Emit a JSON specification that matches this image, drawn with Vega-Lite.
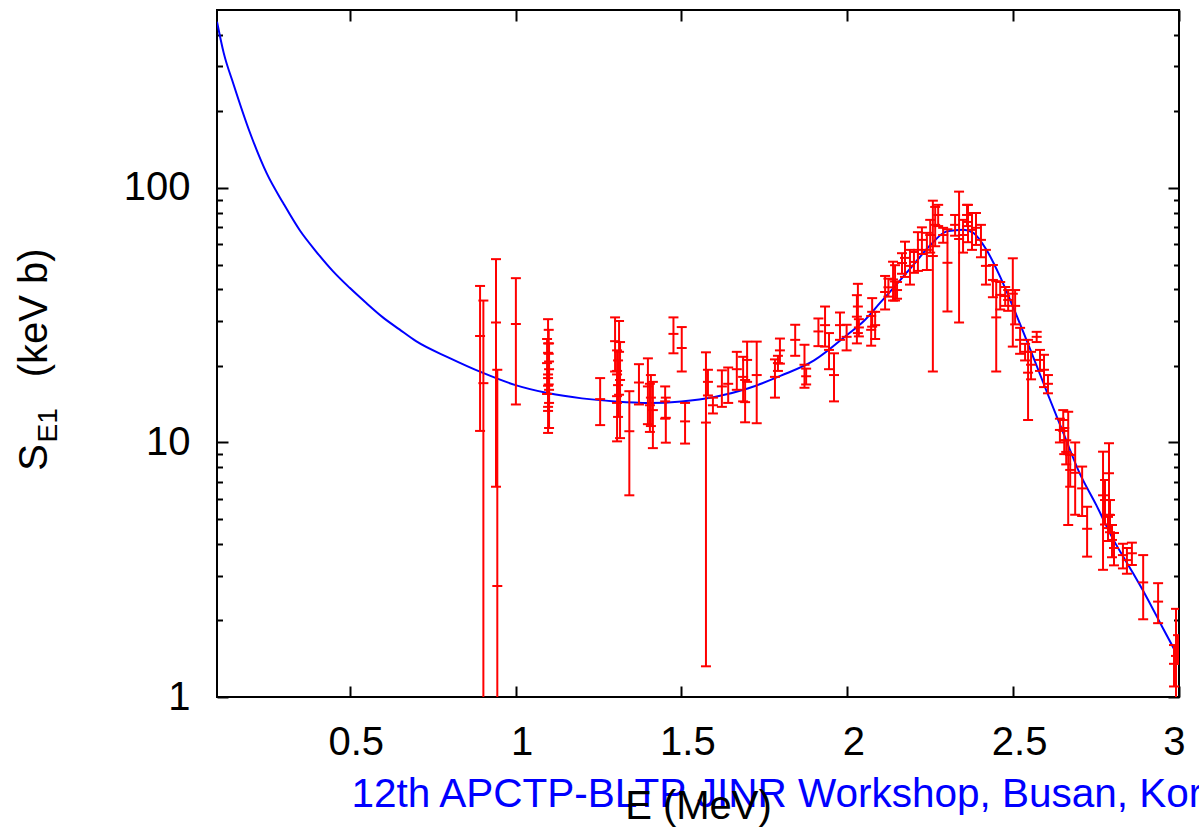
{
  "$schema": "https://vega.github.io/schema/vega-lite/v6.json",
  "width": 962,
  "height": 687,
  "autosize": {"type": "none"},
  "padding": {"left": 217, "top": 10, "right": 20, "bottom": 130},
  "background": "white",
  "config": {
    "view": {"stroke": "black", "strokeWidth": 2},
    "font": "Liberation Sans",
    "axis": {
      "labelFont": "Liberation Sans",
      "titleFont": "Liberation Sans",
      "labelFontSize": 40,
      "titleFontSize": 40,
      "titleFontWeight": "normal",
      "labelColor": "black",
      "titleColor": "black",
      "domain": false,
      "grid": false
    }
  },
  "datasets": {
    "curve": [
      {"E": 0.10, "S": 450}, {"E": 0.12, "S": 340}, {"E": 0.15, "S": 255}, {"E": 0.20, "S": 164},
      {"E": 0.25, "S": 114}, {"E": 0.30, "S": 87}, {"E": 0.35, "S": 68}, {"E": 0.40, "S": 56},
      {"E": 0.45, "S": 47}, {"E": 0.50, "S": 40.5}, {"E": 0.55, "S": 35.3}, {"E": 0.60, "S": 31},
      {"E": 0.65, "S": 27.8}, {"E": 0.70, "S": 25}, {"E": 0.80, "S": 21.5},
      {"E": 0.90, "S": 18.8}, {"E": 1.00, "S": 16.8}, {"E": 1.10, "S": 15.6}, {"E": 1.20, "S": 14.9},
      {"E": 1.30, "S": 14.5}, {"E": 1.40, "S": 14.3}, {"E": 1.50, "S": 14.5}, {"E": 1.60, "S": 15.1},
      {"E": 1.70, "S": 16.3}, {"E": 1.80, "S": 18.3}, {"E": 1.90, "S": 21}, {"E": 2.00, "S": 26.5},
      {"E": 2.05, "S": 30}, {"E": 2.10, "S": 35.5}, {"E": 2.15, "S": 42}, {"E": 2.20, "S": 50},
      {"E": 2.25, "S": 59.5}, {"E": 2.30, "S": 67.5}, {"E": 2.35, "S": 68.5}, {"E": 2.38, "S": 66.6},
      {"E": 2.42, "S": 57}, {"E": 2.46, "S": 45}, {"E": 2.50, "S": 34}, {"E": 2.55, "S": 23.5},
      {"E": 2.60, "S": 16}, {"E": 2.65, "S": 11}, {"E": 2.70, "S": 7.6}, {"E": 2.75, "S": 5.7},
      {"E": 2.80, "S": 4.2}, {"E": 2.85, "S": 3.25}, {"E": 2.90, "S": 2.5}, {"E": 2.95, "S": 1.88},
      {"E": 3.00, "S": 1.42}
    ],
    "points": [
      {"E": 0.893, "S": 26.2, "lo": 11.1, "hi": 41.2},
      {"E": 0.903, "S": 17.1, "lo": 0.5, "hi": 36.1},
      {"E": 0.941, "S": 29.6, "lo": 6.7, "hi": 52.5},
      {"E": 0.945, "S": 2.73, "lo": 0.5, "hi": 19.3},
      {"E": 1.001, "S": 29.2, "lo": 14.1, "hi": 44.2},
      {"E": 1.098, "S": 24.5, "lo": 18.5, "hi": 30.5},
      {"E": 1.100, "S": 22.3, "lo": 16.9, "hi": 27.7},
      {"E": 1.095, "S": 20.5, "lo": 15.5, "hi": 25.5},
      {"E": 1.101, "S": 19.4, "lo": 14.3, "hi": 24.5},
      {"E": 1.098, "S": 17.9, "lo": 13.3, "hi": 22.5},
      {"E": 1.101, "S": 16.1, "lo": 11.4, "hi": 20.8},
      {"E": 1.098, "S": 13.8, "lo": 10.9, "hi": 16.7},
      {"E": 1.255, "S": 14.8, "lo": 11.7, "hi": 17.9},
      {"E": 1.300, "S": 25.0, "lo": 19.0, "hi": 31.0},
      {"E": 1.312, "S": 22.7, "lo": 15.4, "hi": 30.0},
      {"E": 1.306, "S": 19.1, "lo": 15.2, "hi": 23.0},
      {"E": 1.309, "S": 16.8, "lo": 12.6, "hi": 21.0},
      {"E": 1.315, "S": 17.6, "lo": 10.4, "hi": 24.8},
      {"E": 1.306, "S": 14.3, "lo": 10.1, "hi": 18.5},
      {"E": 1.343, "S": 11.07, "lo": 6.2, "hi": 15.9},
      {"E": 1.372, "S": 17.2, "lo": 14.1, "hi": 20.3},
      {"E": 1.399, "S": 16.6, "lo": 11.8, "hi": 21.4},
      {"E": 1.408, "S": 15.0, "lo": 11.6, "hi": 18.4},
      {"E": 1.414, "S": 13.4, "lo": 9.5, "hi": 17.3},
      {"E": 1.405, "S": 14.0, "lo": 11.0, "hi": 17.0},
      {"E": 1.453, "S": 12.5, "lo": 9.98, "hi": 15.0},
      {"E": 1.451, "S": 14.5, "lo": 12.4, "hi": 16.6},
      {"E": 1.476, "S": 26.7, "lo": 22.4, "hi": 31.0},
      {"E": 1.501, "S": 23.5, "lo": 19.0, "hi": 28.4},
      {"E": 1.511, "S": 12.1, "lo": 9.9, "hi": 14.3},
      {"E": 1.574, "S": 11.97, "lo": 1.32, "hi": 22.6},
      {"E": 1.580, "S": 17.3, "lo": 15.3, "hi": 19.3},
      {"E": 1.595, "S": 14.0, "lo": 13.0, "hi": 15.0},
      {"E": 1.622, "S": 16.6, "lo": 13.8, "hi": 19.2},
      {"E": 1.641, "S": 17.0, "lo": 14.3, "hi": 19.7},
      {"E": 1.667, "S": 19.4, "lo": 16.1, "hi": 22.7},
      {"E": 1.686, "S": 18.1, "lo": 14.5, "hi": 21.7},
      {"E": 1.698, "S": 21.1, "lo": 17.3, "hi": 24.9},
      {"E": 1.692, "S": 14.4, "lo": 12.0, "hi": 17.6},
      {"E": 1.727, "S": 18.4, "lo": 11.9, "hi": 24.9},
      {"E": 1.782, "S": 18.1, "lo": 15.0, "hi": 21.2},
      {"E": 1.791, "S": 20.5, "lo": 19.1, "hi": 21.9},
      {"E": 1.797, "S": 23.0, "lo": 20.4, "hi": 25.6},
      {"E": 1.843, "S": 25.3, "lo": 21.9, "hi": 29.0},
      {"E": 1.871, "S": 20.2, "lo": 16.4, "hi": 24.2},
      {"E": 1.876, "S": 18.2, "lo": 16.9, "hi": 19.5},
      {"E": 1.913, "S": 27.3, "lo": 23.9, "hi": 30.7},
      {"E": 1.933, "S": 28.9, "lo": 23.8, "hi": 34.2},
      {"E": 1.945, "S": 23.1, "lo": 19.4, "hi": 26.9},
      {"E": 1.960, "S": 18.4, "lo": 14.5, "hi": 22.4},
      {"E": 1.978, "S": 28.9, "lo": 25.3, "hi": 32.4},
      {"E": 1.998, "S": 26.0, "lo": 23.0, "hi": 29.0},
      {"E": 2.032, "S": 34.2, "lo": 26.9, "hi": 42.0},
      {"E": 2.029, "S": 31.2, "lo": 24.5, "hi": 37.9},
      {"E": 2.035, "S": 28.3, "lo": 26.1, "hi": 30.5},
      {"E": 2.075, "S": 32.6, "lo": 28.5, "hi": 36.9},
      {"E": 2.084, "S": 28.9, "lo": 25.5, "hi": 32.6},
      {"E": 2.072, "S": 27.7, "lo": 24.0, "hi": 31.4},
      {"E": 2.114, "S": 39.0, "lo": 33.3, "hi": 45.1},
      {"E": 2.124, "S": 40.7, "lo": 37.4, "hi": 44.0},
      {"E": 2.144, "S": 42.9, "lo": 36.1, "hi": 49.7},
      {"E": 2.138, "S": 43.7, "lo": 36.1, "hi": 51.3},
      {"E": 2.150, "S": 39.7, "lo": 36.7, "hi": 42.7},
      {"E": 2.165, "S": 50.7, "lo": 46.0, "hi": 55.4},
      {"E": 2.174, "S": 53.1, "lo": 44.7, "hi": 61.5},
      {"E": 2.189, "S": 49.4, "lo": 41.7, "hi": 57.1},
      {"E": 2.201, "S": 51.2, "lo": 46.4, "hi": 56.0},
      {"E": 2.213, "S": 57.1, "lo": 47.2, "hi": 67.0},
      {"E": 2.225, "S": 62.5, "lo": 55.0, "hi": 70.0},
      {"E": 2.240, "S": 57.1, "lo": 47.6, "hi": 66.6},
      {"E": 2.250, "S": 65.3, "lo": 55.7, "hi": 74.9},
      {"E": 2.258, "S": 54.0, "lo": 19.0, "hi": 89.1},
      {"E": 2.265, "S": 71.6, "lo": 59.0, "hi": 84.2},
      {"E": 2.274, "S": 78.3, "lo": 70.8, "hi": 85.8},
      {"E": 2.289, "S": 65.3, "lo": 60.9, "hi": 69.7},
      {"E": 2.302, "S": 50.8, "lo": 32.7, "hi": 68.8},
      {"E": 2.325, "S": 71.6, "lo": 64.9, "hi": 78.3},
      {"E": 2.337, "S": 63.0, "lo": 29.6, "hi": 96.7},
      {"E": 2.349, "S": 65.3, "lo": 55.7, "hi": 74.9},
      {"E": 2.361, "S": 78.3, "lo": 70.8, "hi": 85.8},
      {"E": 2.364, "S": 73.5, "lo": 61.2, "hi": 85.8},
      {"E": 2.376, "S": 68.4, "lo": 57.1, "hi": 79.7},
      {"E": 2.388, "S": 69.7, "lo": 59.7, "hi": 79.7},
      {"E": 2.403, "S": 62.5, "lo": 53.4, "hi": 71.6},
      {"E": 2.418, "S": 49.4, "lo": 41.7, "hi": 57.1},
      {"E": 2.439, "S": 43.5, "lo": 37.2, "hi": 49.8},
      {"E": 2.449, "S": 31.0, "lo": 19.0, "hi": 43.0},
      {"E": 2.461, "S": 38.0, "lo": 33.3, "hi": 42.7},
      {"E": 2.476, "S": 37.6, "lo": 34.4, "hi": 40.8},
      {"E": 2.485, "S": 36.3, "lo": 32.9, "hi": 39.7},
      {"E": 2.499, "S": 38.4, "lo": 23.8, "hi": 52.9},
      {"E": 2.506, "S": 34.4, "lo": 29.1, "hi": 39.7},
      {"E": 2.521, "S": 25.3, "lo": 22.3, "hi": 28.2},
      {"E": 2.536, "S": 22.7, "lo": 21.0, "hi": 24.4},
      {"E": 2.545, "S": 18.8, "lo": 12.25, "hi": 25.3},
      {"E": 2.554, "S": 20.2, "lo": 17.7, "hi": 22.7},
      {"E": 2.571, "S": 26.0, "lo": 24.8, "hi": 27.2},
      {"E": 2.581, "S": 21.1, "lo": 19.1, "hi": 23.1},
      {"E": 2.593, "S": 19.3, "lo": 16.5, "hi": 22.1},
      {"E": 2.605, "S": 17.0, "lo": 15.6, "hi": 18.4},
      {"E": 2.641, "S": 11.2, "lo": 10.0, "hi": 12.4},
      {"E": 2.651, "S": 12.25, "lo": 11.1, "hi": 13.4},
      {"E": 2.654, "S": 10.2, "lo": 9.0, "hi": 11.4},
      {"E": 2.660, "S": 9.18, "lo": 8.2, "hi": 10.2},
      {"E": 2.666, "S": 9.0, "lo": 4.74, "hi": 13.2},
      {"E": 2.672, "S": 7.8, "lo": 6.7, "hi": 8.93},
      {"E": 2.687, "S": 7.6, "lo": 5.2, "hi": 10.0},
      {"E": 2.708, "S": 6.6, "lo": 5.14, "hi": 8.04},
      {"E": 2.723, "S": 4.58, "lo": 3.56, "hi": 5.59},
      {"E": 2.771, "S": 6.2, "lo": 3.16, "hi": 9.2},
      {"E": 2.789, "S": 7.57, "lo": 5.2, "hi": 9.93},
      {"E": 2.777, "S": 5.94, "lo": 4.76, "hi": 7.12},
      {"E": 2.792, "S": 5.19, "lo": 4.44, "hi": 5.94},
      {"E": 2.798, "S": 4.14, "lo": 3.54, "hi": 4.74},
      {"E": 2.786, "S": 4.61, "lo": 4.1, "hi": 5.1},
      {"E": 2.804, "S": 3.85, "lo": 3.29, "hi": 4.41},
      {"E": 2.831, "S": 3.61, "lo": 3.2, "hi": 4.0},
      {"E": 2.843, "S": 3.45, "lo": 3.05, "hi": 3.85},
      {"E": 2.858, "S": 3.67, "lo": 3.3, "hi": 4.04},
      {"E": 2.892, "S": 2.82, "lo": 2.02, "hi": 3.61},
      {"E": 2.937, "S": 2.37, "lo": 1.95, "hi": 2.8},
      {"E": 2.985, "S": 1.35, "lo": 1.1, "hi": 1.6},
      {"E": 2.991, "S": 1.45, "lo": 0.68, "hi": 2.22},
      {"E": 2.997, "S": 1.55, "lo": 1.35, "hi": 1.75}
    ]
  },
  "layer": [
    {
      "data": {"name": "curve"},
      "mark": {"type": "line", "color": "#0000ff", "strokeWidth": 2, "clip": true, "interpolate": "monotone"},
      "encoding": {
        "x": {
          "field": "E", "type": "quantitative",
          "scale": {"domain": [0.1, 3], "nice": false, "zero": false},
          "axis": {
            "orient": "top",
            "values": [0.5, 1, 1.5, 2, 2.5, 3],
            "labels": false,
            "ticks": true,
            "tickColor": "#000000",
            "tickWidth": 2,
            "offset": -11,
            "tickSize": 11,
            "title": "12th APCTP-BLTP JINR Workshop, Busan, Korea",
            "titleColor": "#0000ff",
            "titleFontSize": 40.5,
            "titleX": 134,
            "titleY": 785,
            "titleAngle": 0,
            "titleAlign": "left",
            "titleBaseline": "alphabetic"
          }
        },
        "y": {
          "field": "S", "type": "quantitative",
          "scale": {"type": "log", "domain": [1, 500], "nice": false},
          "axis": {
            "orient": "right",
            "values": [1, 10, 100],
            "labels": false,
            "ticks": true,
            "tickColor": "#000000",
            "tickWidth": 2,
            "offset": -11,
            "tickSize": 11,
            "title": "E1",
            "titleFontSize": 28,
            "titleAngle": -90,
            "titleX": -1112,
            "titleY": 432,
            "titleAlign": "left",
            "titleBaseline": "alphabetic"
          }
        }
      }
    },
    {
      "data": {"name": "points"},
      "mark": {"type": "rule", "color": "#ff0000", "strokeWidth": 2, "clip": true},
      "encoding": {
        "x": {
          "field": "E", "type": "quantitative",
          "scale": {"domain": [0.1, 3], "nice": false, "zero": false},
          "axis": {
            "orient": "bottom",
            "values": [0.5, 1, 1.5, 2, 2.5, 3],
            "format": "~g",
            "ticks": true,
            "tickColor": "#000000",
            "tickWidth": 2,
            "offset": -11,
            "tickSize": 11,
            "labelPadding": 25,
            "labelOffset": 6,
            "title": "E (MeV)",
            "titleY": 132,
            "titleBaseline": "alphabetic"
          }
        },
        "y": {
          "field": "lo", "type": "quantitative",
          "scale": {"type": "log", "domain": [1, 500], "nice": false},
          "axis": {
            "orient": "left",
            "values": [1, 10, 100],
            "labelExpr": "toString(datum.value)",
            "ticks": true,
            "tickColor": "#000000",
            "tickWidth": 2,
            "offset": -11,
            "tickSize": 11,
            "labelPadding": 27,
            "title": "S\u00a0\u00a0\u00a0\u00a0\u00a0\u00a0(keV b)",
            "titleAngle": -90,
            "titleX": -182,
            "titleY": 349,
            "titleAlign": "center",
            "titleBaseline": "alphabetic"
          }
        },
        "y2": {"field": "hi"}
      }
    },
    {
      "data": {"name": "points"},
      "mark": {"type": "tick", "orient": "horizontal", "color": "#ff0000", "size": 10, "thickness": 2, "opacity": 1, "clip": true},
      "encoding": {
        "x": {"field": "E", "type": "quantitative", "axis": null},
        "y": {
          "field": "lo", "type": "quantitative",
          "axis": {
            "orient": "left",
            "values": [2, 3, 4, 5, 6, 7, 8, 9, 20, 30, 40, 50, 60, 70, 80, 90, 200, 300, 400],
            "labels": false,
            "ticks": true,
            "tickColor": "#000000",
            "tickWidth": 2,
            "offset": -5.5,
            "tickSize": 5.5,
            "title": null
          }
        }
      }
    },
    {
      "data": {"name": "points"},
      "mark": {"type": "tick", "orient": "horizontal", "color": "#ff0000", "size": 10, "thickness": 2, "opacity": 1, "clip": true},
      "encoding": {
        "x": {"field": "E", "type": "quantitative", "axis": null},
        "y": {
          "field": "hi", "type": "quantitative",
          "axis": {
            "orient": "right",
            "values": [2, 3, 4, 5, 6, 7, 8, 9, 20, 30, 40, 50, 60, 70, 80, 90, 200, 300, 400],
            "labels": false,
            "ticks": true,
            "tickColor": "#000000",
            "tickWidth": 2,
            "offset": -5.5,
            "tickSize": 5.5,
            "title": null
          }
        }
      }
    },
    {
      "data": {"name": "points"},
      "mark": {"type": "tick", "orient": "horizontal", "color": "#ff0000", "size": 10, "thickness": 2, "opacity": 1, "clip": true},
      "encoding": {
        "x": {"field": "E", "type": "quantitative", "axis": null},
        "y": {"field": "S", "type": "quantitative", "axis": null}
      }
    }
  ],
  "resolve": {"axis": {"x": "independent", "y": "independent"}}
}
